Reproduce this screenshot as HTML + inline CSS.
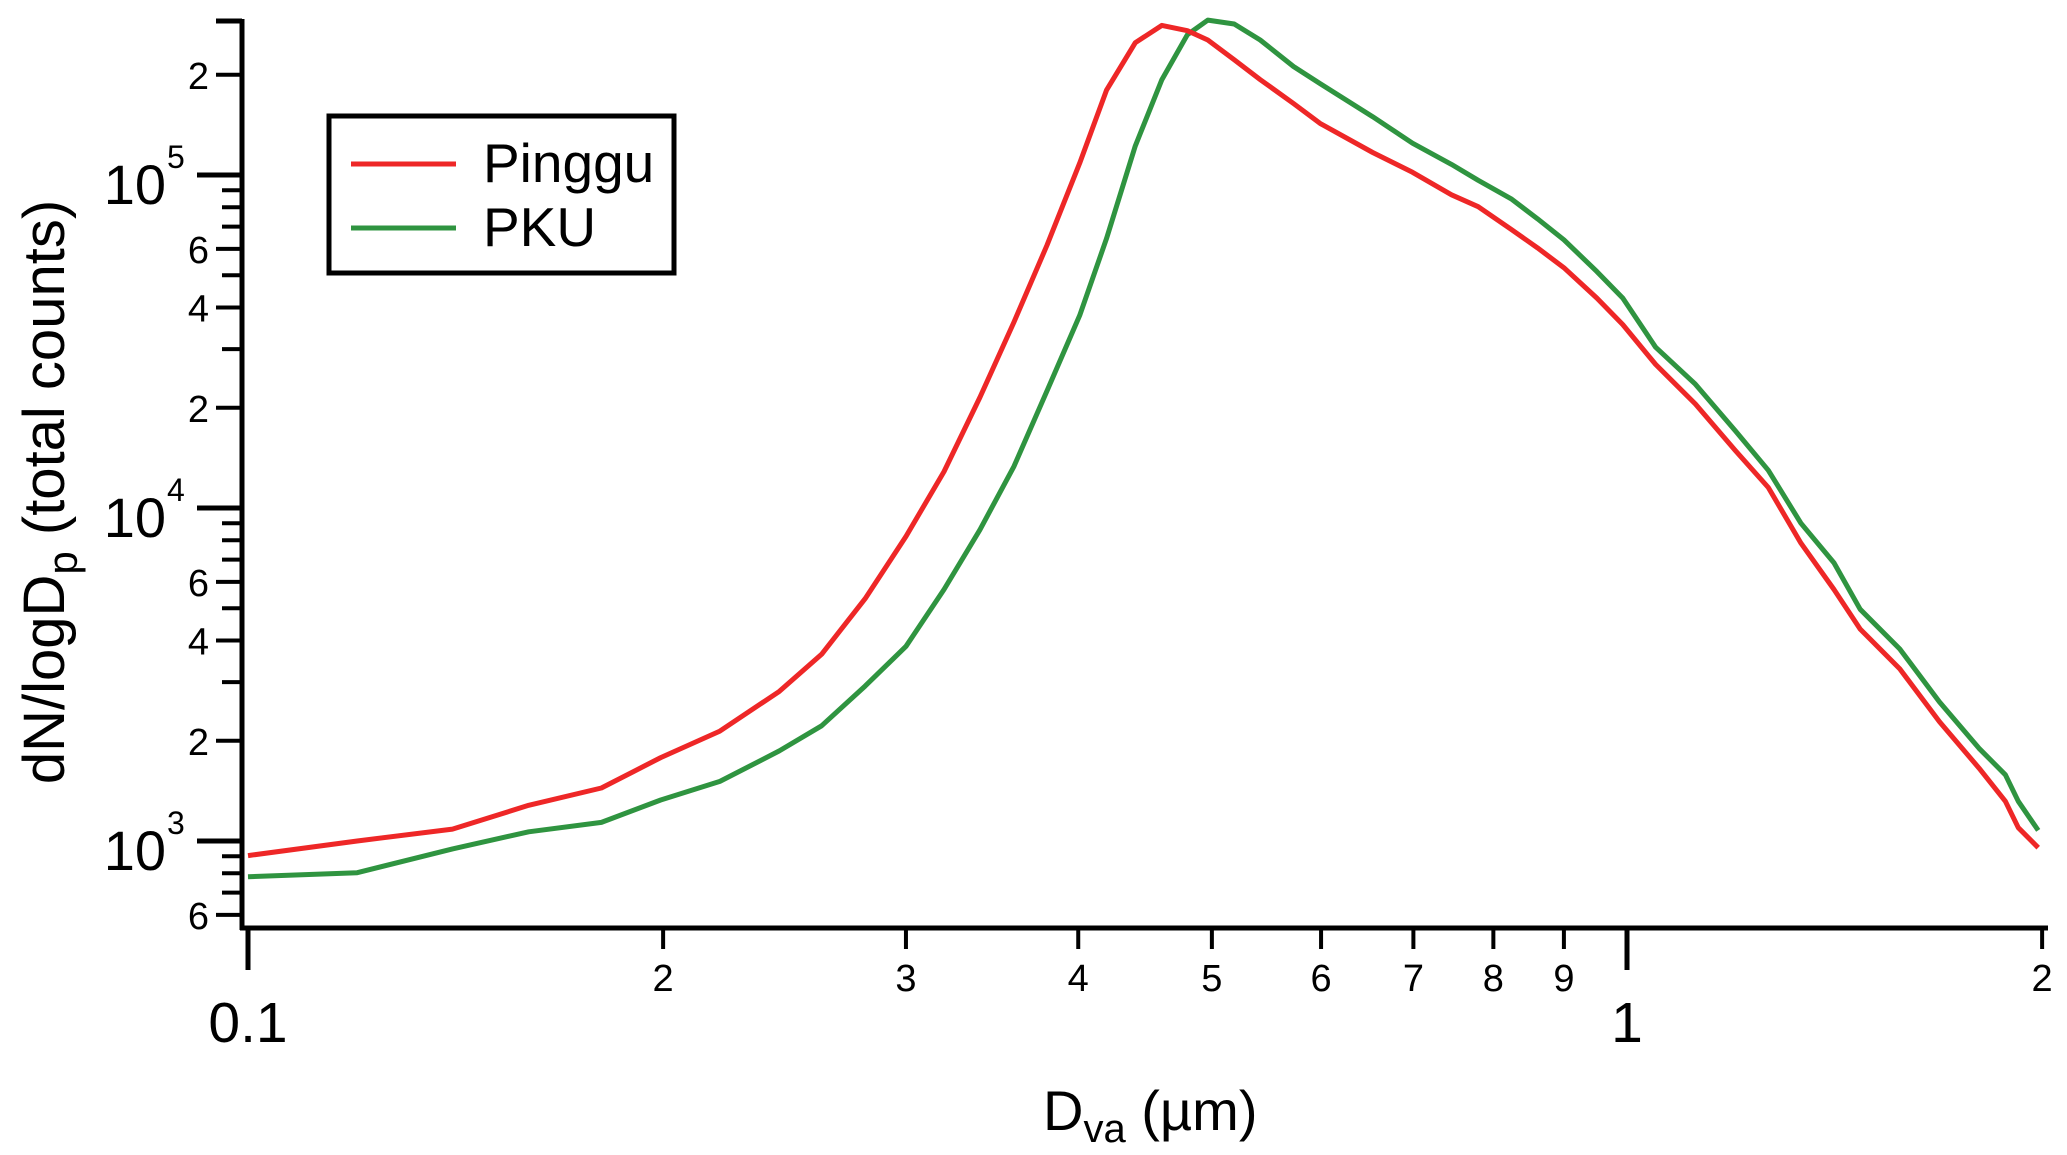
<!DOCTYPE html>
<html><head><meta charset="utf-8"><style>
html,body{margin:0;padding:0;background:#fff;}
svg{display:block;font-family:"Liberation Sans",Arial,sans-serif;}
</style></head><body>
<svg id="chart" width="2067" height="1155" viewBox="0 0 2067 1155" xmlns="http://www.w3.org/2000/svg">
<g id="axes"></g>
<g id="series"></g>
<g id="legend">
  <rect x="329" y="116" width="345" height="157" fill="#fff" stroke="#000" stroke-width="5"/>
  <line x1="351" y1="164" x2="456" y2="164" stroke="#ee2727" stroke-width="5"/>
  <text x="483" y="182" font-size="55">Pinggu</text>
  <line x1="351" y1="228" x2="456" y2="228" stroke="#2f9440" stroke-width="5"/>
  <text x="483" y="246" font-size="55">PKU</text>
</g>
<text x="1043" y="1130" font-size="56">D<tspan font-size="40" dy="12">va</tspan><tspan dy="-12"> (µm)</tspan></text>
<text transform="translate(64,492) rotate(-90)" text-anchor="middle" font-size="58">dN/logD<tspan font-size="42" dy="13">p</tspan><tspan dy="-13"> (total counts)</tspan></text>
</svg>
<script>
const xValues = [0.100,0.120,0.1407,0.1598,0.1804,0.1992,0.2199,0.2428,0.2606,0.2802,0.300,0.3197,0.3394,0.3593,0.3797,0.401,0.4193,0.440,0.460,0.480,0.4966,0.519,0.542,0.573,0.599,0.654,0.699,0.746,0.780,0.824,0.861,0.900,0.951,0.993,1.049,1.121,1.198,1.266,1.337,1.413,1.476,1.577,1.685,1.800,1.881,1.922,1.987];
const pingguValues = [904,1000,1086,1280,1443,1780,2138,2814,3637,5341,8215,12860,21480,36200,61550,108600,179700,249700,281300,271200,254400,221800,193400,163900,142900,116800,101900,87200,80290,68710,60430,52690,42680,35540,27000,20520,14890,11520,7846,5693,4327,3288,2280,1655,1316,1096,955];
const pkuValues = [781,803,947,1066,1137,1328,1510,1864,2218,2919,3842,5693,8601,13340,22480,37890,64440,122300,193400,263900,291900,284000,254400,211800,188100,149600,124600,107600,96400,84810,73930,63880,51260,42680,30410,23540,17080,12980,9001,6839,4965,3772,2615,1898,1580,1316,1076];
const xMajorTicks = [0.1, 1];
const xMajorLabels = ["0.1", "1"];
const xMinorTicks = [0.2,0.3,0.4,0.5,0.6,0.7,0.8,0.9,2];
const xMinorLabels = ["2","3","4","5","6","7","8","9","2"];
const yMajorTicks = [1000, 10000, 100000];
const yMajorExponents = ["3","4","5"];
const yLabeledMinor = [600,2000,4000,6000,20000,40000,60000,200000];
const yLabeledMinorText = ["6","2","4","6","2","4","6","2"];
const yMinorTicks = [700,800,900,3000,5000,7000,8000,9000,30000,50000,70000,80000,90000];

const NS = "http://www.w3.org/2000/svg";
const X0 = 248, XDEC = 1379;
const Y3 = 841, YDEC = 333;
const xs = v => X0 + (Math.log10(v) + 1) * XDEC;
const ys = v => Y3 - (Math.log10(v) - 3) * YDEC;
const axisX = 242, axisY = 928;

function mk(tag, attrs, parent) {
  const el = document.createElementNS(NS, tag);
  for (const k in attrs) el.setAttribute(k, attrs[k]);
  parent.appendChild(el);
  return el;
}
const axes = document.getElementById('axes');
let el;
el = mk('line', {x1: axisX, y1: 19, x2: axisX, y2: axisY + 2, stroke: '#000', 'stroke-width': 5}, axes);


el = mk('line', {x1: axisX - 2, y1: axisY, x2: 2048, y2: axisY, stroke: '#000', 'stroke-width': 5}, axes);


el = mk('line', {x1: 216, y1: 21, x2: axisX, y2: 21, stroke: '#000', 'stroke-width': 5}, axes);



xMajorTicks.forEach((v, i) => {
  const x = xs(v);
  let t = mk('line', {x1: x, y1: axisY, x2: x, y2: 970, stroke: '#000', 'stroke-width': 5}, axes);
  
  
  let l = mk('text', {x: x, y: 1042, 'font-size': 57, 'text-anchor': 'middle'}, axes);
  l.textContent = xMajorLabels[i];
  
  
});
xMinorTicks.forEach((v, i) => {
  const x = xs(v);
  let t = mk('line', {x1: x, y1: axisY, x2: x, y2: 949, stroke: '#000', 'stroke-width': 4}, axes);
  
  
  let l = mk('text', {x: x, y: 991, 'font-size': 38, 'text-anchor': 'middle'}, axes);
  l.textContent = xMinorLabels[i];
  
  
});
yMajorTicks.forEach((v, i) => {
  const y = ys(v);
  let t = mk('line', {x1: 197, y1: y, x2: axisX, y2: y, stroke: '#000', 'stroke-width': 5}, axes);
  
  
  let l = mk('text', {x: 166, y: y + 29, 'font-size': 56, 'text-anchor': 'end'}, axes);
  l.textContent = '10';
  
  
  let s = mk('text', {x: 167, y: y - 7, 'font-size': 32, 'text-anchor': 'start'}, axes);
  s.textContent = yMajorExponents[i];
  
  
});
yLabeledMinor.forEach((v, i) => {
  const y = ys(v);
  let t = mk('line', {x1: 216, y1: y, x2: axisX, y2: y, stroke: '#000', 'stroke-width': 4}, axes);
  
  
  let l = mk('text', {x: 209, y: y + 14, 'font-size': 38, 'text-anchor': 'end'}, axes);
  l.textContent = yLabeledMinorText[i];
  
  
});
yMinorTicks.forEach(v => {
  const y = ys(v);
  let t = mk('line', {x1: 222, y1: y, x2: axisX, y2: y, stroke: '#000', 'stroke-width': 4}, axes);
  
  
});

const series = document.getElementById('series');
function drawLine(vals, color, name) {
  const pts = vals.map((v, i) => xs(xValues[i]).toFixed(1) + ',' + ys(v).toFixed(1)).join(' ');
  const p = mk('polyline', {points: pts, fill: 'none', stroke: color, 'stroke-width': 5, 'stroke-linejoin': 'round'}, series);
  
  
}
drawLine(pkuValues, '#2f9440', 'pku-line');
drawLine(pingguValues, '#ee2727', 'pinggu-line');
</script>
</body></html>
